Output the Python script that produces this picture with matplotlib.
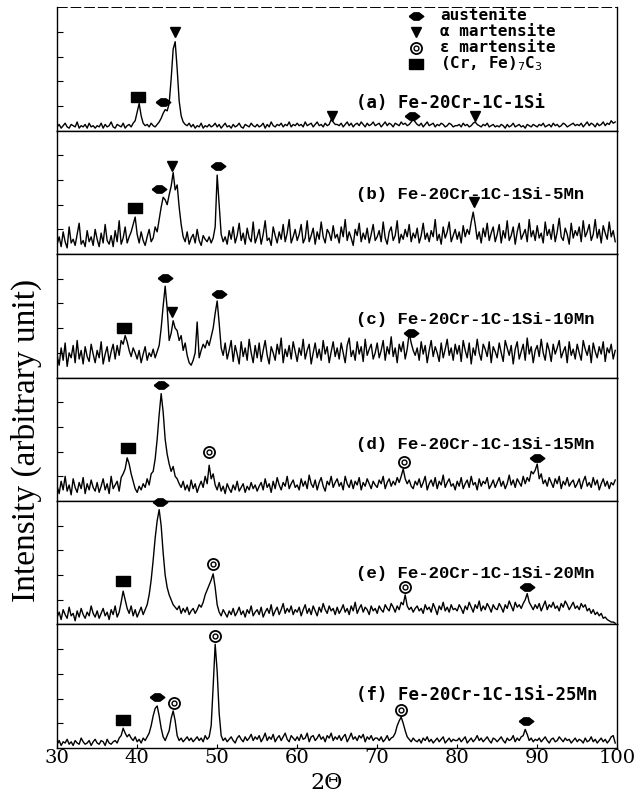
import numpy as np
import matplotlib.pyplot as plt

# XRD patterns, intensity in % of panel height, 0.25 deg steps from 30 to 99.75
two_theta = np.arange(30, 100, 0.25)

int_a = [
    3, 5, 2, 4, 6, 3, 2, 5, 4, 3, 7, 2, 4, 3, 5, 2, 6, 3, 4, 2,
    4, 3, 6, 2, 5, 3, 4, 7, 3, 2, 5, 4, 3, 6, 2, 4, 5, 3, 6, 8,
    15, 22, 12, 6, 4, 5, 3, 6, 4, 3, 5, 7, 10, 14, 17, 16, 22, 42, 66, 72,
    50, 24, 12, 7, 5, 4, 6, 3, 5, 2, 4, 3, 6, 2, 4, 3, 5, 3, 4, 6,
    3, 5, 2, 4, 6, 3, 4, 2, 5, 3, 4, 6, 3, 2, 5, 4, 3, 6, 4, 3,
    5, 3, 4, 6, 2, 5, 3, 7, 4, 3, 5, 4, 6, 3, 5, 4, 7, 3, 5, 4,
    6, 4, 5, 3, 7, 4, 5, 6, 3, 5, 7, 4, 5, 3, 6, 4, 5, 9, 7, 5,
    5, 4, 6, 3, 5, 7, 4, 6, 3, 5, 6, 4, 7, 5, 3, 6, 4, 5, 7, 4,
    5, 6, 3, 5, 7, 4, 6, 5, 3, 6, 5, 4, 7, 5, 6, 4, 5, 7, 9, 7,
    5, 4, 6, 3, 5, 7, 4, 5, 6, 3, 5, 4, 6, 5, 3, 4, 6, 5, 3, 4,
    4, 5, 3, 6, 4, 5, 3, 4, 6, 7, 5, 4, 3, 5, 4, 6, 3, 4, 5, 3,
    4, 3, 5, 4, 2, 5, 3, 4, 6, 3, 4, 5, 3, 4, 2, 5, 4, 3, 5, 4,
    3, 5, 4, 6, 3, 4, 5, 3, 6, 4, 5, 3, 4, 6, 5, 3, 4, 5, 6, 4,
    5, 4, 6, 3, 5, 7, 4, 6, 5, 3, 6, 4, 5, 7, 4, 6, 5, 8, 6, 7,
]
int_b = [
    8, 14, 6, 18, 10, 5, 22, 9, 12, 7, 16, 25, 8, 11, 6, 19, 10, 14, 7, 20,
    12, 6, 17, 9, 24, 11, 8, 15, 6, 19, 10, 27, 8, 13, 22, 9, 14, 18, 24, 30,
    16, 9, 18, 11, 7, 14, 20, 10, 13, 22, 18, 28, 38, 46, 44, 40, 48, 55, 66, 52,
    56, 38, 24, 14, 10, 18, 8, 13, 16, 9, 20, 11, 7, 15, 12, 10, 14, 9, 13, 22,
    64, 40, 16, 10, 14, 8, 19, 12, 22, 9, 15, 25, 11, 17, 8, 21, 13, 10, 26, 9,
    14, 20, 8, 16, 27, 11, 13, 7, 22, 15, 9, 18, 12, 24, 10, 17, 28, 9, 14, 20,
    11, 16, 24, 9, 13, 27, 10, 15, 21, 8, 18, 12, 26, 14, 9, 20, 17, 11, 23, 13,
    16, 9, 22, 14, 28, 11, 18, 13, 7, 20, 15, 25, 10, 17, 12, 21, 9, 16, 24, 11,
    14, 19, 10, 26, 13, 8, 18, 22, 11, 15, 27, 9, 16, 12, 20, 14, 24, 10, 17, 13,
    21, 9, 15, 25, 12, 17, 10, 19, 14, 28, 11, 16, 8, 22, 13, 18, 26, 10, 15, 20,
    12, 18, 9, 23, 14, 20, 16, 26, 34, 24, 12, 18, 9, 21, 14, 25, 11, 17, 22, 10,
    16, 24, 9, 19, 13, 27, 11, 15, 22, 8, 18, 25, 12, 16, 20, 10, 28, 14, 19, 11,
    23, 13, 17, 9, 26, 15, 20, 12, 24, 10, 18, 29, 14, 11, 21, 16, 8, 25, 13, 19,
    15, 22, 10, 27, 14, 18, 24, 11, 16, 28, 13, 20, 9, 23, 17, 12, 26, 14, 19, 10,
]
int_c = [
    18, 10, 24, 14, 28, 9, 20, 16, 26, 12, 30, 15, 22, 11, 25, 17, 13, 27, 19, 12,
    22, 16, 29, 11, 19, 25, 13, 21, 27, 15, 26, 18, 30, 27, 34, 29, 22, 17, 24, 20,
    15, 22, 12, 19, 25, 14, 20, 17, 23, 16, 21, 26, 40, 58, 74, 56, 30, 36, 46, 40,
    38, 30, 34, 22, 28, 18, 12, 10, 14, 20, 45, 16, 22, 27, 24, 30, 26, 33, 40, 52,
    62, 44, 24, 18, 28, 15, 22, 30, 13, 26, 19, 11, 29, 17, 24, 14, 31, 20, 12, 26,
    16, 28, 13, 22, 30, 18, 11, 25, 20, 14, 27, 19, 32, 12, 23, 17, 26, 15, 29, 21,
    13, 24, 18, 31, 15, 22, 27, 11, 20, 28, 16, 23, 14, 30, 19, 25, 12, 21, 29, 17,
    24, 15, 28, 20, 12, 26, 32, 17, 22, 14, 29, 19, 25, 13, 31, 18, 23, 27, 15, 20,
    28, 16, 22, 30, 14, 25, 19, 33, 17, 24, 12, 27, 21, 29, 15, 23, 36, 28, 22, 18,
    24, 14, 29, 19, 26, 12, 22, 30, 17, 25, 20, 13, 28, 16, 23, 31, 18, 24, 14, 27,
    19, 26, 13, 30, 22, 16, 28, 11, 24, 18, 31, 20, 14, 27, 23, 17, 29, 12, 25, 21,
    16, 28, 20, 13, 30, 24, 18, 26, 11, 23, 29, 15, 21, 27, 14, 32, 19, 25, 12, 22,
    26, 17, 31, 20, 14, 28, 22, 13, 27, 19, 24, 30, 16, 21, 25, 12, 29, 18, 23, 15,
    27, 20, 14, 30, 23, 18, 26, 12, 28, 21, 16, 25, 19, 29, 13, 24, 20, 27, 15, 22,
]
int_d = [
    12, 6, 16, 9, 20, 8, 13, 5, 18, 11, 7, 15, 10, 19, 6, 14, 9, 17, 11, 8,
    15, 7, 12, 18, 9, 14, 6, 20, 10, 13, 16, 8, 19, 22, 26, 35, 30, 22, 16, 10,
    7, 12, 9, 14, 11, 18, 13, 22, 24, 34, 50, 70, 87, 72, 50, 38, 30, 24, 28, 20,
    18, 14, 11, 16, 9, 13, 8, 17, 10, 14, 7, 12, 16, 11, 20, 14, 29, 18, 22, 13,
    9, 15, 8, 12, 6, 14, 10, 7, 13, 9, 16, 8, 11, 14, 7, 12, 9, 15, 10, 13,
    8, 12, 15, 9, 18, 11, 14, 7, 16, 10, 19, 13, 9, 15, 12, 20, 10, 14, 17, 11,
    13, 9, 18, 12, 16, 10, 21, 14, 11, 17, 9, 15, 19, 12, 8, 16, 13, 20, 11, 15,
    18, 12, 15, 9, 20, 14, 11, 17, 10, 16, 13, 19, 9, 15, 12, 18, 14, 10, 16, 13,
    11, 17, 14, 20, 10, 15, 18, 12, 16, 13, 19, 15, 20, 26, 18, 14, 17, 12, 10, 16,
    13, 18, 11, 15, 20, 9, 14, 17, 12, 19, 10, 16, 13, 21, 11, 15, 18, 12, 14, 9,
    16, 12, 19, 10, 14, 17, 11, 20, 13, 15, 9, 18, 12, 16, 14, 19, 10, 13, 17, 11,
    15, 19, 12, 16, 10, 14, 21, 13, 17, 11, 18, 15, 12, 20, 14, 19, 16, 24, 22, 25,
    30, 18, 22, 14, 17, 12, 19, 15, 11, 18, 14, 20, 10, 16, 13, 19, 12, 15, 17, 11,
    14, 18, 10, 16, 20, 12, 15, 11, 19, 13, 17, 9, 14, 18, 12, 16, 10, 15, 13, 17,
]
int_e = [
    6, 10, 4, 12, 8, 5, 14, 7, 9, 3, 11, 6, 13, 8, 5, 10, 7, 15, 9, 6,
    11, 5, 9, 13, 7, 10, 4, 12, 8, 15, 6, 10, 18, 27, 20, 13, 9, 15, 7, 12,
    6, 10, 14, 8, 12, 16, 24, 36, 52, 70, 84, 93, 80, 58, 40, 30, 24, 20, 16, 14,
    12, 15, 9, 13, 10, 14, 8, 11, 13, 9, 12, 16, 14, 18, 24, 28, 32, 36, 41, 30,
    16, 10, 7, 12, 9, 6, 11, 8, 13, 7, 10, 14, 8, 11, 6, 12, 9, 15, 7, 10,
    12, 8, 14, 6, 10, 13, 9, 16, 7, 11, 14, 8, 12, 17, 9, 13, 10, 15, 8, 12,
    10, 14, 7, 12, 16, 9, 13, 8, 15, 11, 7, 14, 10, 17, 12, 9, 15, 11, 13, 8,
    14, 9, 12, 16, 10, 13, 8, 15, 11, 18, 9, 13, 16, 10, 14, 12, 8, 15, 11, 13,
    9, 15, 12, 10, 16, 13, 11, 17, 14, 10, 15, 12, 18, 16, 24, 15, 12, 14, 10, 13,
    15, 11, 13, 9, 16, 12, 14, 10, 17, 13, 8, 15, 12, 18, 11, 14, 10, 16, 12, 13,
    11, 16, 13, 9, 15, 12, 18, 14, 10, 16, 13, 19, 11, 15, 12, 17, 14, 10, 16, 13,
    12, 17, 14, 10, 16, 13, 19, 15, 11, 18, 14, 16, 13, 17, 20, 25, 18, 15, 12, 16,
    13, 17, 11, 15, 19, 12, 16, 14, 18, 13, 15, 11, 17, 14, 19, 16, 12, 15, 18, 13,
    15, 12, 17, 14, 16, 11, 13, 9, 12, 8, 10, 7, 9, 5, 6, 4, 3, 2, 2, 1,
]
int_f = [
    3, 6, 2, 5, 4, 7, 3, 5, 2, 6, 4, 3, 8, 5, 3, 4, 6, 2, 5, 7,
    4, 3, 6, 5, 2, 7, 4, 3, 5, 6, 4, 8, 10, 16, 12, 9, 11, 8, 6, 9,
    5, 7, 4, 8, 6, 9, 12, 18, 26, 32, 34, 26, 16, 9, 6, 10, 14, 24, 30, 22,
    10, 6, 8, 5, 7, 9, 6, 8, 5, 7, 9, 6, 8, 5, 10, 7, 9, 18, 50, 84,
    62, 28, 10, 6, 8, 5, 7, 9, 6, 4, 8, 10, 7, 5, 9, 6, 8, 11, 6, 9,
    7, 10, 5, 8, 12, 6, 9, 7, 11, 5, 8, 10, 6, 9, 12, 7, 5, 10, 8, 6,
    9, 6, 11, 7, 8, 12, 5, 9, 10, 6, 8, 11, 7, 9, 5, 10, 8, 12, 6, 9,
    7, 10, 6, 9, 11, 5, 8, 12, 7, 9, 6, 10, 8, 11, 5, 9, 7, 10, 6, 8,
    8, 6, 9, 5, 7, 10, 6, 8, 9, 12, 18, 22, 25, 20, 14, 9, 7, 5, 8, 6,
    5, 7, 4, 8, 6, 9, 5, 7, 4, 6, 8, 5, 7, 9, 4, 6, 8, 5, 7, 6,
    6, 8, 5, 7, 9, 4, 6, 8, 5, 7, 10, 6, 8, 5, 7, 9, 6, 4, 8, 7,
    5, 7, 9, 6, 4, 8, 6, 7, 10, 5, 8, 6, 9, 10, 15, 11, 6, 8, 5, 7,
    6, 8, 5, 7, 9, 6, 4, 7, 8, 5, 6, 9, 7, 5, 8, 6, 7, 4, 6, 8,
    5, 7, 6, 4, 8, 5, 6, 9, 5, 7, 4, 6, 8, 5, 7, 4, 6, 9, 10, 4,
]

patterns = [int_a, int_b, int_c, int_d, int_e, int_f]
labels = ['(a) Fe-20Cr-1C-1Si', '(b) Fe-20Cr-1C-1Si-5Mn', '(c) Fe-20Cr-1C-1Si-10Mn',
          '(d) Fe-20Cr-1C-1Si-15Mn', '(e) Fe-20Cr-1C-1Si-20Mn', '(f) Fe-20Cr-1C-1Si-25Mn']
label_y = [22, 48, 47, 46, 41, 43]

# phase marks: (phase, 2theta, height in %)
marks = [
    [('carb', 40.1, 27), ('aus', 43.2, 23), ('alpha', 44.7, 80),
     ('alpha', 64.3, 12), ('aus', 74.4, 12), ('alpha', 82.2, 12)],
    [('carb', 39.7, 37), ('aus', 42.7, 53), ('alpha', 44.4, 71),
     ('aus', 50.1, 71), ('alpha', 82.1, 42)],
    [('carb', 38.4, 40), ('aus', 43.45, 81), ('alpha', 44.4, 53),
     ('aus', 50.2, 68), ('aus', 74.2, 36)],
    [('carb', 38.8, 43), ('aus', 43.0, 94), ('eps', 48.95, 40),
     ('eps', 73.3, 32), ('aus', 90.0, 35)],
    [('carb', 38.2, 35), ('aus', 42.8, 99), ('eps', 49.5, 49),
     ('eps', 73.5, 30), ('aus', 88.7, 30)],
    [('carb', 38.2, 23), ('aus', 42.5, 41), ('eps', 44.6, 36),
     ('eps', 49.7, 91), ('eps', 73.0, 31), ('aus', 88.6, 22)],
]

legend_names = ['austenite', 'α martensite', 'ε martensite', '(Cr, Fe)$_7$C$_3$']
legend_kinds = ['aus', 'alpha', 'eps', 'carb']
legend_y = [93, 80, 67, 54]

aus_shape = [(-1, 0), (-0.35, 0.5), (0.35, 0.5), (1, 0), (0.35, -0.5), (-0.35, -0.5), (-1, 0)]
carb_shape = [(-1, -0.62), (1, -0.62), (1, 0.62), (-1, 0.62), (-1, -0.62)]


def mark(ax, kind, x, y):
    kw = dict(color='k', clip_on=False, zorder=5)
    if kind == 'aus':
        ax.plot(x, y, marker=aus_shape, ms=10.5, **kw)
    elif kind == 'alpha':
        ax.plot(x, y, marker='v', ms=7.5, **kw)
    elif kind == 'carb':
        ax.plot(x, y, marker=carb_shape, ms=10.5, **kw)
    else:
        ax.plot(x, y, marker='o', ms=8, mfc='white', mec='k', mew=1.3, clip_on=False, zorder=5)
        ax.plot(x, y, marker='o', ms=3.5, mfc='none', mec='k', mew=1.0, clip_on=False, zorder=6)


fig = plt.figure(figsize=(6.35, 7.94), dpi=100)
gs = fig.add_gridspec(6, 1, left=0.09, right=0.972, top=0.991, bottom=0.058, hspace=0)

for i in range(6):
    ax = fig.add_subplot(gs[i])
    ax.plot(two_theta, patterns[i], color='k', lw=1.0)
    ax.set_xlim(30, 100)
    ax.set_ylim(0, 100)
    ax.set_yticks([20, 40, 60, 80])
    ax.tick_params(axis='y', direction='in', length=4, width=0.8, labelleft=False)
    ax.set_xticks(range(30, 101, 10))
    for s in ax.spines.values():
        s.set_linewidth(1.0)
    if i < 5:
        ax.tick_params(axis='x', length=0, labelbottom=False)
    else:
        ax.tick_params(axis='x', direction='in', length=3, pad=1, labelsize=14)
        for t in ax.get_xticklabels():
            t.set_family('DejaVu Serif')
    if i == 0:
        ax.spines['top'].set_linestyle((0, (10, 4)))
        ax.spines['top'].set_linewidth(0.7)
    fam = 'Liberation Mono' if i in (1, 2, 3, 4) else 'DejaVu Sans Mono'
    ax.text(67.3, label_y[i], labels[i], fontsize=12.5, family=fam,
            fontweight='bold', va='center', ha='left')
    for kind, x, y in marks[i]:
        mark(ax, kind, x, y)
    if i == 0:
        for name, kind, y in zip(legend_names, legend_kinds, legend_y):
            mark(ax, kind, 74.9, y)
            ax.text(77.9, y, name, fontsize=11.5, family='DejaVu Sans Mono',
                    fontweight='bold', va='center', ha='left')

fig.text(0.041, 0.445, 'Intensity (arbitrary unit)', rotation=90, ha='center',
         va='center', fontsize=24, family='Liberation Serif')
fig.text(0.515, 0.006, '2Θ', ha='center', va='baseline', fontsize=16,
         family='DejaVu Serif')

fig.savefig('out.png', dpi=100)
